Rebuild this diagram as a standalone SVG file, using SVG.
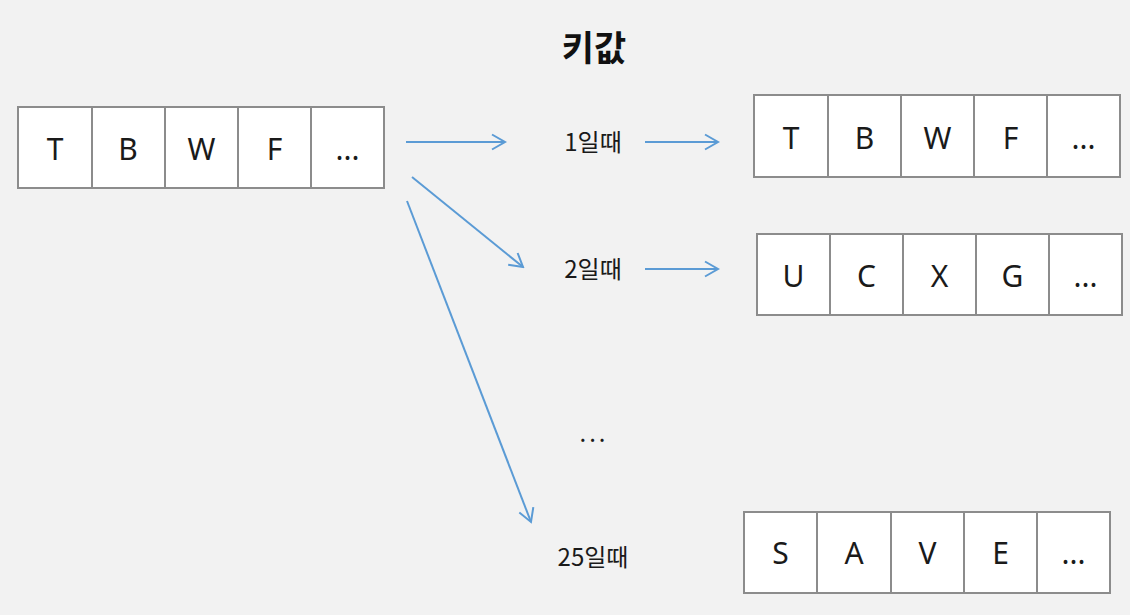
<svg xmlns="http://www.w3.org/2000/svg" width="1130" height="615" viewBox="0 0 1130 615">
<style>
.cell{fill:#ffffff;stroke:#8c8c8c;stroke-width:2}
.ch{font-family:"Noto Sans","Open Sans","Noto Sans CJK KR",sans-serif;font-size:30px;fill:#1a1a1a;text-anchor:middle}
.lbl{font-family:"Noto Sans CJK KR","Noto Sans",sans-serif;font-size:24px;fill:#1a1a1a;text-anchor:middle}
.title{font-family:"Noto Sans CJK KR",sans-serif;font-size:35px;font-weight:bold;fill:#111;text-anchor:middle}
.arr{stroke:#5b9bd5;stroke-width:2;fill:none;marker-end:url(#ah)}
</style>
<defs>
<marker id="ah" markerUnits="userSpaceOnUse" viewBox="-14 -9 16 18" refX="0" refY="0" markerWidth="16" markerHeight="18" orient="auto">
<path d="M-13,-7.5 L0,0 L-13,7.5" fill="none" stroke="#5b9bd5" stroke-width="2"/>
</marker>
</defs>
<rect width="1130" height="615" fill="#f2f2f2"/>
<text class="title" x="594" y="61">키값</text>
<g id="source">
<rect class="cell" x="18" y="107" width="74" height="81"/>
<rect class="cell" x="92" y="107" width="73" height="81"/>
<rect class="cell" x="165" y="107" width="73" height="81"/>
<rect class="cell" x="238" y="107" width="73" height="81"/>
<rect class="cell" x="311" y="107" width="73" height="81"/>
<text class="ch" x="55" y="160">T</text>
<text class="ch" x="128" y="160">B</text>
<text class="ch" x="201.5" y="160">W</text>
<text class="ch" x="274.5" y="160">F</text>
<text class="ch" x="347.5" y="160">...</text>
</g>
<g id="label1"><text class="lbl" x="593" y="151">1일때</text></g>
<g id="label2"><text class="lbl" x="593" y="278">2일때</text></g>
<g id="labeldots"><text class="lbl" x="594" y="442" letter-spacing="3">...</text></g>
<g id="label25"><text class="lbl" x="593" y="566">25일때</text></g>
<g id="result1">
<rect class="cell" x="754" y="95" width="74" height="82"/>
<rect class="cell" x="828" y="95" width="73" height="82"/>
<rect class="cell" x="901" y="95" width="73" height="82"/>
<rect class="cell" x="974" y="95" width="73" height="82"/>
<rect class="cell" x="1047" y="95" width="73" height="82"/>
<text class="ch" x="791" y="149">T</text>
<text class="ch" x="864.5" y="149">B</text>
<text class="ch" x="937.5" y="149">W</text>
<text class="ch" x="1010.5" y="149">F</text>
<text class="ch" x="1083.5" y="149">...</text>
</g>
<g id="result2">
<rect class="cell" x="757" y="234" width="73" height="81"/>
<rect class="cell" x="830" y="234" width="73" height="81"/>
<rect class="cell" x="903" y="234" width="73" height="81"/>
<rect class="cell" x="976" y="234" width="73" height="81"/>
<rect class="cell" x="1049" y="234" width="73" height="81"/>
<text class="ch" x="793.5" y="287">U</text>
<text class="ch" x="866.5" y="287">C</text>
<text class="ch" x="939.5" y="287">X</text>
<text class="ch" x="1012.5" y="287">G</text>
<text class="ch" x="1085.5" y="287">...</text>
</g>
<g id="result25">
<rect class="cell" x="744" y="512" width="73" height="81"/>
<rect class="cell" x="817" y="512" width="74" height="81"/>
<rect class="cell" x="891" y="512" width="73" height="81"/>
<rect class="cell" x="964" y="512" width="73" height="81"/>
<rect class="cell" x="1037" y="512" width="73" height="81"/>
<text class="ch" x="780.5" y="564">S</text>
<text class="ch" x="854" y="564">A</text>
<text class="ch" x="927.5" y="564">V</text>
<text class="ch" x="1000.5" y="564">E</text>
<text class="ch" x="1073.5" y="564">...</text>
</g>
<g id="connectors">
<line class="arr" x1="406" y1="142" x2="505" y2="142"/>
<line class="arr" x1="645" y1="142" x2="718" y2="142"/>
<line class="arr" x1="412" y1="177" x2="523" y2="267"/>
<line class="arr" x1="645" y1="269" x2="718" y2="269"/>
<line class="arr" x1="407" y1="201" x2="531" y2="522"/>
</g>
</svg>
